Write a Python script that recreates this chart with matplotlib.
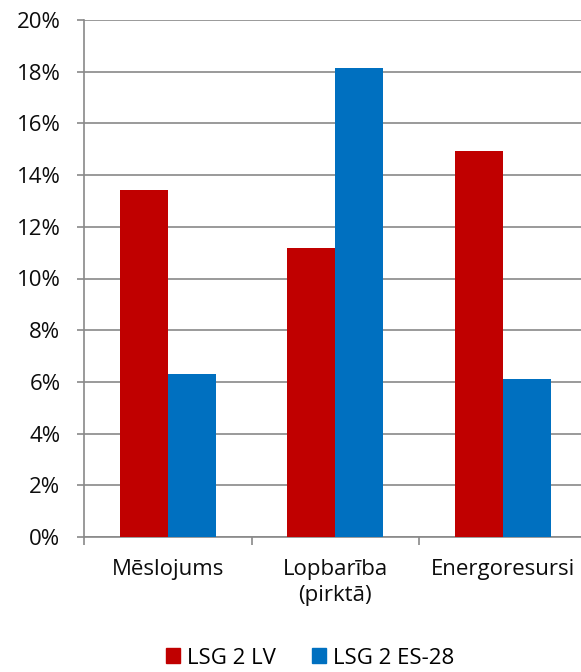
import numpy as np
import matplotlib as mpl
mpl.use("Agg")
from matplotlib import pylab as plt
from matplotlib.patches import Patch

categories = ["Mēslojums", "Lopbarība\n(pirktā)", "Energoresursi"]
lsg_lv = [13.42, 11.18, 14.93]
lsg_es = [6.30, 18.14, 6.11]
series_names = ["LSG 2 LV", "LSG 2 ES-28"]
yticks = [0, 2, 4, 6, 8, 10, 12, 14, 16, 18, 20]

red = "#c00000"
blue = "#0070c0"
grey = "#898989"
txt = "#0d0d0d"
fs = 16

plt.rcParams['font.family'] = ['Open Sans', 'DejaVu Sans']

W, H = 581, 672
fig = plt.figure(figsize=[W / 100, H / 100], dpi=100)
left, right, top, bottom = 84, 586.8, 20, 537
ax = fig.add_axes([left / W, 1 - bottom / H, (right - left) / W, (bottom - top) / H])

x = np.arange(len(categories))
w = 0.2866
ax.bar(x - w / 2, lsg_lv, width=w, color=red, label=series_names[0], zorder=3)
ax.bar(x + w / 2, lsg_es, width=w, color=blue, label=series_names[1], zorder=3)

ax.set_xlim(-0.5, len(categories) - 0.5)
ax.set_ylim(0, 20)
ax.set_yticks(yticks)
ax.set_yticklabels([f"{v}%" for v in yticks], fontsize=fs, color=txt)
ax.yaxis.grid(True, color=grey, linewidth=1.2, zorder=0)
ax.tick_params(axis='y', length=5, color=grey, width=1.2, pad=12)

# category labels between boundary ticks
ax.set_xticks(np.arange(len(categories) + 1) - 0.5)
ax.set_xticklabels([])
ax.set_xticks(x, minor=True)
ax.set_xticklabels(categories, minor=True, fontsize=fs, color=txt, linespacing=1.3, va='top')
ax.tick_params(axis='x', which='major', length=6, color=grey, width=1.2)
ax.tick_params(axis='x', which='minor', length=0, pad=16)

for s in ['top', 'right']:
    ax.spines[s].set_visible(False)
for s in ['left', 'bottom']:
    ax.spines[s].set_color(grey)
    ax.spines[s].set_linewidth(1.2)

handles = [Patch(color=red), Patch(color=blue)]
fig.legend(handles, series_names, loc='center', bbox_to_anchor=(310 / W, 1 - 658 / H),
           ncol=2, frameon=False, handlelength=0.65, handleheight=0.65,
           handletextpad=0.3, columnspacing=1.6, prop={'size': fs})

plt.savefig('out.png', dpi=100)
plt.close()
